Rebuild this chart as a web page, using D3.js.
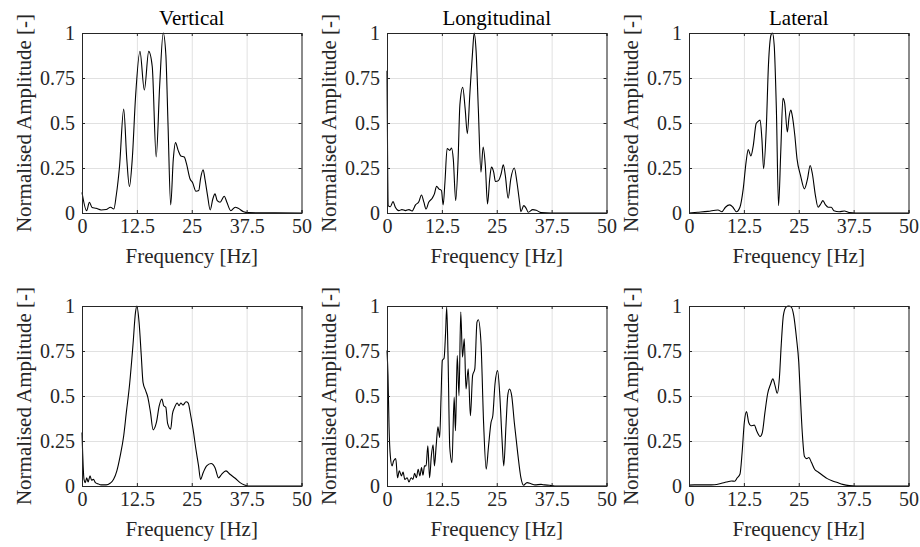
<!DOCTYPE html>
<html>
<head>
<meta charset="utf-8">
<script src="https://cdn.jsdelivr.net/npm/d3@7"></script>
<style>
  body { margin: 0; background: #fff; }
</style>
</head>
<body>
<div class="graph"></div>
<script>
const titles = ['Vertical', 'Longitudinal', 'Lateral'];
const xTicks = [0, 12.5, 25, 37.5, 50];
const yTicks = [0, 0.25, 0.5, 0.75, 1];

// top row
const vertTopHz = [0, 1.07, 1.68, 2.3, 3.2, 4.35, 5.5, 6.5, 7.25, 7.8, 8.55, 9.5, 10.2, 10.8, 11.45, 12.2, 13.2, 14.2, 15.2, 16.0, 16.9, 17.7, 18.5, 19.1, 19.6, 20.2, 20.8, 21.3, 21.9, 22.5, 23.3, 23.8, 24.6, 25.2, 25.95, 26.6, 27.0, 27.6, 28.0, 28.6, 29.2, 29.8, 30.3, 30.8, 31.45, 32.4, 33.0, 33.9, 34.9, 35.6, 36.8, 37.9, 40.6, 50];
const vertTopAmp = [0.115, 0.013, 0.06, 0.03, 0.026, 0.017, 0.019, 0.032, 0.022, 0.097, 0.26, 0.577, 0.30, 0.147, 0.30, 0.646, 0.898, 0.683, 0.898, 0.814, 0.311, 0.711, 1.0, 0.879, 0.488, 0.045, 0.30, 0.391, 0.348, 0.317, 0.311, 0.274, 0.19, 0.168, 0.121, 0.125, 0.19, 0.24, 0.19, 0.097, 0.017, 0.078, 0.106, 0.069, 0.06, 0.093, 0.06, 0.013, 0.032, 0.026, 0.007, 0.002, 0.001, 0];

const longTopHz = [0, 0.3, 0.77, 1.37, 1.9, 2.67, 3.4, 4.2, 5.0, 5.7, 6.5, 7.25, 7.86, 8.4, 8.9, 9.5, 10.3, 10.8, 11.3, 11.8, 12.4, 12.8, 13.2, 13.7, 14.3, 14.7, 15.1, 15.65, 16.2, 16.6, 17.25, 17.8, 18.3, 18.9, 19.5, 19.85, 20.3, 20.8, 21.4, 21.9, 22.4, 22.9, 23.4, 23.8, 24.3, 24.7, 25.4, 26.0, 26.5, 26.95, 27.6, 28.2, 29.0, 29.6, 30.2, 30.5, 31.15, 31.7, 32.2, 33.2, 34.0, 35.1, 37.4, 50];
const longTopAmp = [0.79, 0.04, 0.035, 0.063, 0.032, 0.013, 0.019, 0.013, 0.019, 0.011, 0.045, 0.063, 0.10, 0.06, 0.022, 0.06, 0.082, 0.106, 0.149, 0.134, 0.125, 0.045, 0.171, 0.358, 0.348, 0.361, 0.30, 0.069, 0.30, 0.60, 0.698, 0.58, 0.441, 0.674, 0.898, 1.0, 0.898, 0.58, 0.227, 0.367, 0.264, 0.05, 0.19, 0.255, 0.227, 0.175, 0.18, 0.218, 0.268, 0.209, 0.082, 0.19, 0.25, 0.171, 0.06, 0.007, 0.041, 0.026, 0.004, 0.019, 0.015, 0.002, 0, 0];

const latTopHz = [0, 2.0, 4.3, 6.6, 7.5, 8.3, 9.3, 10.0, 10.8, 11.6, 12.35, 13.0, 13.5, 14.1, 14.65, 15.3, 15.65, 16.2, 16.6, 17.0, 17.6, 18.1, 18.7, 19.0, 19.4, 19.9, 20.4, 20.9, 21.4, 21.8, 22.4, 22.8, 23.2, 23.5, 24.1, 24.6, 25.4, 26.3, 27.0, 27.6, 28.1, 28.8, 29.4, 30.0, 30.5, 31.1, 31.7, 32.4, 33.0, 34.2, 35.4, 36.5, 38.0, 50];
const latTopAmp = [0, 0.004, 0.009, 0.017, 0.007, 0.032, 0.045, 0.032, 0.007, 0.032, 0.134, 0.283, 0.352, 0.317, 0.376, 0.497, 0.507, 0.516, 0.413, 0.246, 0.469, 0.823, 0.99, 1.0, 0.935, 0.58, 0.041, 0.339, 0.637, 0.609, 0.45, 0.534, 0.572, 0.544, 0.432, 0.302, 0.209, 0.134, 0.19, 0.264, 0.218, 0.097, 0.032, 0.05, 0.069, 0.045, 0.032, 0.032, 0.013, 0.007, 0.011, 0.002, 0, 0];

// bottom row
const vertBotHz = [0, 0.46, 0.76, 1.07, 1.4, 1.83, 2.2, 2.6, 3.05, 3.6, 4.35, 5.5, 6.4, 7.2, 7.94, 8.7, 9.5, 10.1, 10.85, 11.6, 12.2, 12.5, 13.0, 13.5, 13.9, 14.5, 15.0, 15.6, 16.2, 16.95, 17.6, 18.2, 18.6, 19.1, 19.5, 20.2, 20.6, 21.1, 21.7, 22.1, 22.5, 23.0, 23.7, 24.2, 24.7, 25.3, 25.95, 26.55, 27.0, 27.6, 28.4, 29.4, 30.3, 31.1, 31.8, 32.8, 33.7, 34.9, 36.0, 37.0, 37.9, 50];
const vertBotAmp = [0.297, 0.037, 0.019, 0.046, 0.022, 0.056, 0.032, 0.037, 0.019, 0.013, 0.006, 0.006, 0.015, 0.037, 0.084, 0.167, 0.279, 0.409, 0.567, 0.78, 0.967, 1.0, 0.91, 0.725, 0.576, 0.53, 0.493, 0.409, 0.312, 0.353, 0.446, 0.483, 0.446, 0.437, 0.348, 0.316, 0.40, 0.437, 0.461, 0.446, 0.461, 0.45, 0.468, 0.461, 0.40, 0.316, 0.204, 0.112, 0.037, 0.074, 0.112, 0.125, 0.102, 0.045, 0.065, 0.084, 0.065, 0.043, 0.019, 0.006, 0, 0];

const longBotHz = [0, 0.23, 0.46, 0.76, 1.15, 1.5, 2.0, 2.4, 2.8, 3.3, 3.66, 4.05, 4.6, 5.0, 5.5, 5.9, 6.3, 6.7, 7.1, 7.5, 7.86, 8.2, 8.55, 8.9, 9.3, 9.7, 10.1, 10.5, 10.8, 11.2, 11.6, 12.0, 12.3, 12.6, 13.0, 13.35, 13.6, 13.9, 14.3, 14.8, 15.3, 15.6, 16.0, 16.4, 16.8, 17.2, 17.6, 18.0, 18.5, 19.0, 19.5, 20.0, 20.5, 20.8, 21.4, 22.0, 22.6, 23.1, 23.7, 24.1, 24.6, 25.2, 25.7, 26.2, 26.6, 27.1, 27.5, 27.9, 28.4, 29.0, 29.8, 30.5, 31.1, 31.9, 32.8, 33.7, 35.1, 35.9, 37.0, 38.2, 50];
const longBotAmp = [0.753, 0.613, 0.335, 0.167, 0.112, 0.139, 0.152, 0.046, 0.084, 0.056, 0.078, 0.037, 0.046, 0.022, 0.046, 0.037, 0.07, 0.046, 0.093, 0.056, 0.102, 0.06, 0.112, 0.112, 0.223, 0.046, 0.167, 0.229, 0.112, 0.223, 0.329, 0.27, 0.483, 0.697, 0.71, 0.855, 0.994, 0.725, 0.214, 0.13, 0.493, 0.307, 0.725, 0.502, 0.967, 0.716, 0.818, 0.539, 0.651, 0.39, 0.613, 0.651, 0.91, 0.924, 0.80, 0.353, 0.093, 0.214, 0.353, 0.39, 0.567, 0.641, 0.502, 0.26, 0.112, 0.335, 0.502, 0.539, 0.502, 0.353, 0.177, 0.046, 0.004, 0.019, 0.013, 0.006, 0.009, 0.006, 0.004, 0, 0];

const latBotHz = [0, 1.2, 2.76, 4.3, 5.8, 7.4, 8.5, 9.7, 10.4, 11.0, 11.6, 12.1, 12.6, 13.1, 13.6, 14.1, 14.9, 15.4, 16.2, 16.7, 17.3, 17.9, 18.6, 19.1, 19.6, 20.1, 20.6, 21.0, 21.5, 22.1, 22.7, 23.3, 23.85, 24.5, 25.0, 25.4, 25.8, 26.3, 26.8, 27.3, 27.9, 28.6, 29.4, 30.4, 31.5, 32.7, 33.8, 35.0, 36.5, 38.0, 50];
const latBotAmp = [0.005, 0.006, 0.006, 0.006, 0.007, 0.015, 0.022, 0.028, 0.026, 0.046, 0.065, 0.186, 0.353, 0.413, 0.353, 0.335, 0.338, 0.307, 0.275, 0.297, 0.409, 0.511, 0.567, 0.595, 0.558, 0.515, 0.604, 0.78, 0.948, 0.994, 1.0, 0.994, 0.948, 0.818, 0.688, 0.483, 0.297, 0.164, 0.152, 0.158, 0.13, 0.093, 0.078, 0.06, 0.041, 0.028, 0.019, 0.009, 0.002, 0, 0];

const panels = [
  { row: 0, col: 0, hz: vertTopHz, amp: vertTopAmp },
  { row: 0, col: 1, hz: longTopHz, amp: longTopAmp },
  { row: 0, col: 2, hz: latTopHz, amp: latTopAmp },
  { row: 1, col: 0, hz: vertBotHz, amp: vertBotAmp },
  { row: 1, col: 1, hz: longBotHz, amp: longBotAmp },
  { row: 1, col: 2, hz: latBotHz, amp: latBotAmp }
];

const W = 920;
const H = 547;
const colLeft = [82, 387, 689];
const rowTop = [33, 306];
const pw = 219.5;
const ph = 180;
const axisColor = '#262626';
// serif wanted; falls back to whatever the box has
const serif = '"Liberation Serif", Tinos, "Nimbus Roman", "Nimbus Roman No9 L", FreeSerif, "Noto Serif", "DejaVu Serif", Times, serif';

const svg = d3.select('.graph')
  .append('svg')
  .attr('width', W)
  .attr('height', H)
  .attr('font-family', serif);

panels.forEach((p) => {
  const g = svg.append('g')
    .attr('transform', `translate(${colLeft[p.col]}, ${rowTop[p.row]})`);

  const xScale = d3.scaleLinear().domain([0, 50]).range([0, pw]);
  const yScale = d3.scaleLinear().domain([0, 1]).range([ph, 0]);

  // grid
  g.append('g')
    .attr('class', 'grid')
    .attr('transform', `translate(0, ${ph})`)
    .call(d3.axisBottom(xScale).tickValues(xTicks).tickSize(-ph).tickFormat(''));
  g.append('g')
    .attr('class', 'grid')
    .call(d3.axisLeft(yScale).tickValues(yTicks).tickSize(-pw).tickFormat(''));
  g.selectAll('.grid line').attr('stroke', '#e1e1e1').attr('stroke-width', 1);
  g.selectAll('.grid .domain').remove();

  // data line
  const line = d3.line()
    .x((d, i) => xScale(p.hz[i]))
    .y((d) => yScale(d))
    .curve(d3.curveMonotoneX);
  g.append('path')
    .datum(p.amp)
    .attr('fill', 'none')
    .attr('stroke', '#000')
    .attr('stroke-width', 1.1)
    .attr('d', line);

  // axes with inward ticks
  const xAxis = g.append('g')
    .attr('transform', `translate(0, ${ph})`)
    .call(d3.axisBottom(xScale).tickValues(xTicks).tickSize(-3).tickPadding(6)
      .tickFormat((d) => d));
  const yAxis = g.append('g')
    .call(d3.axisLeft(yScale).tickValues(yTicks).tickSize(-3).tickPadding(7)
      .tickFormat((d) => d));
  const xTop = g.append('g')
    .call(d3.axisTop(xScale).tickValues(xTicks).tickSize(-3).tickFormat(''));
  const yRight = g.append('g')
    .attr('transform', `translate(${pw}, 0)`)
    .call(d3.axisRight(yScale).tickValues(yTicks).tickSize(-3).tickFormat(''));

  [xAxis, yAxis, xTop, yRight].forEach((a) => {
    a.attr('font-family', serif).attr('font-size', 20);
    a.select('.domain').attr('stroke', axisColor).attr('stroke-width', 1);
    a.selectAll('line').attr('stroke', axisColor);
    a.selectAll('text').attr('fill', axisColor);
  });

  g.append('text')
    .attr('x', pw / 2)
    .attr('y', ph + 50)
    .attr('text-anchor', 'middle')
    .attr('fill', axisColor)
    .attr('font-size', 21)
    .text('Frequency [Hz]');

  g.append('text')
    .attr('transform', `translate(-51, ${ph / 2}) rotate(-90)`)
    .attr('text-anchor', 'middle')
    .attr('fill', axisColor)
    .attr('font-size', 21)
    .text('Normalised Amplitude [-]');

  if (p.row === 0) {
    g.append('text')
      .attr('x', pw / 2)
      .attr('y', -8)
      .attr('text-anchor', 'middle')
      .attr('fill', '#000')
      .attr('font-size', 21)
      .text(titles[p.col]);
  }
});
</script>
</body>
</html>
